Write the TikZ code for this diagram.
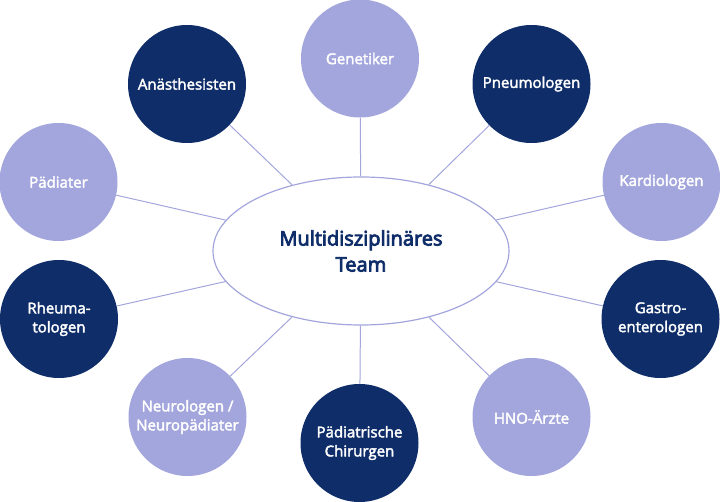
\documentclass[tikz,border=0pt]{standalone}
\usepackage{fontspec}
\setmainfont{Open Sans}
\newfontfamily\semib[FakeBold=4]{Open Sans}
\newfontfamily\medf[FakeBold=2.5]{Open Sans}
\usetikzlibrary{shapes.geometric}
\definecolor{lav}{HTML}{A3A6DC}
\definecolor{navy}{HTML}{0F2D69}
\begin{document}
\begin{tikzpicture}[x=1pt,y=-1pt,
  bub/.style={circle,minimum size=118pt,inner sep=0pt,text=white,font=\medf\fontsize{15}{19}\selectfont,align=center},
  lbub/.style={bub,fill=lav},
  dbub/.style={bub,fill=navy},
  link/.style={draw=lav,line width=1pt}]
\useasboundingbox (0,0) rectangle (720,502);
\node[ellipse,draw=lav,line width=1.2pt,fill=white,minimum width=296pt,minimum height=148pt,inner sep=0pt,text=navy,font=\semib\fontsize{20}{26}\selectfont,align=center] (team) at (361,251) {Multidisziplinäres\\Team};
\node[lbub] (gen) at (360,58.5) {Genetiker};
\node[dbub] (anae) at (187,84) {Anästhesisten};
\node[dbub] (pneu) at (531.5,84) {Pneumologen};
\node[lbub] (paed) at (58.5,182) {Pädiater};
\node[lbub] (kard) at (661.5,182) {Kardiologen};
\node[dbub] (rheu) at (59,319) {Rheuma-\\tologen};
\node[dbub] (gast) at (660.5,319) {Gastro-\\enterologen};
\node[lbub] (neur) at (187.5,417) {Neurologen /\\Neuropädiater};
\node[lbub] (hno) at (531.5,417) {HNO-Ärzte};
\node[dbub] (chir) at (359.5,443) {Pädiatrische\\Chirurgen};
\foreach \n in {gen,anae,pneu,paed,kard,rheu,gast,neur,hno,chir}
  \draw[link] (team) -- (\n);
\end{tikzpicture}
\end{document}
